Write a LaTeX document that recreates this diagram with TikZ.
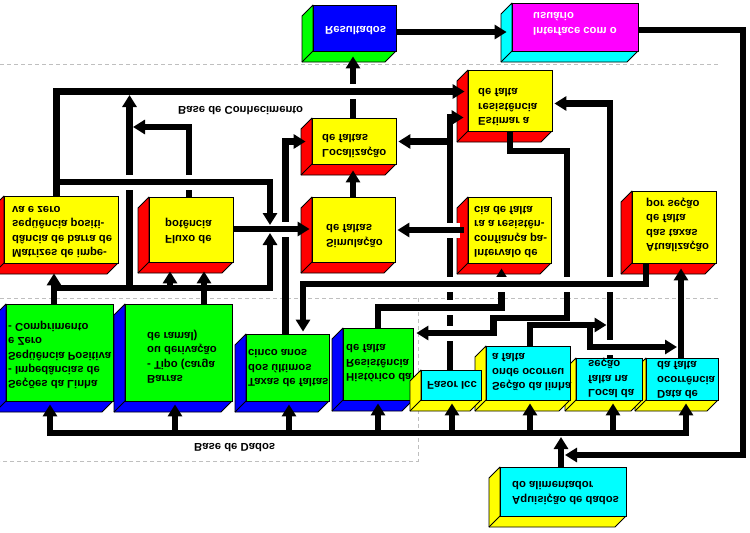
\documentclass[tikz,border=0pt]{standalone}
\usepackage{fontspec}
\usepackage{graphicx}
\setmainfont{Liberation Sans}
\usetikzlibrary{arrows.meta,fit,calc}
\definecolor{cY}{RGB}{255,255,0}
\definecolor{cR}{RGB}{255,0,0}
\definecolor{cG}{RGB}{0,255,0}
\definecolor{cB}{RGB}{0,0,255}
\definecolor{cC}{RGB}{0,255,255}
\definecolor{cM}{RGB}{255,0,255}
\newcommand{\flipt}[1]{\scalebox{1}[-1]{\begin{tabular}{@{}l@{}}#1\end{tabular}}}
\newcommand{\threed}[7]{%
  \filldraw[fill=#7,draw=black,line width=0.8pt,line join=round] (#2,#3) -- ++(-11,11) -- (#2-11,#5+11) -- (#4-11,#5+11) -- (#4,#5) -- (#2,#5) -- cycle;
  \draw[line width=0.8pt] (#2,#5) -- ++(-11,11);
  \node[fit={(#2,#3) (#4,#5)},inner sep=0pt,draw=black,line width=0.8pt,fill=#6] (#1) {};
}
\tikzset{
  conn/.style={line width=6.5pt,draw=black},
  arr/.style={conn,-{Triangle[length=12pt,width=14pt]}},
  bridge/.style={line width=6.5pt,draw=black,preaction={draw=white,line width=15pt}},
  txt/.style={inner sep=0pt,anchor=west,font=\fontsize{11.3}{14.3}\selectfont\bfseries},
  dashln/.style={draw=black!25,line width=0.8pt,dash pattern=on 4pt off 3pt}
}
\begin{document}
\begin{tikzpicture}[x=1pt,y=-1pt]
\fill[white] (0,0) rectangle (750,533);
\useasboundingbox (0,0) rectangle (750,533);
% dashed region borders
\draw[dashln] (0,64) -- (720,64);
\draw[dashln] (0,298) -- (720,298);
\draw[dashln] (418,298) -- (418,461) -- (0,461);
% boxes
\threed{res}{313}{5}{396}{51}{cB}{cG}
\threed{ui}{512}{3}{638}{51}{cM}{cC}
\threed{est}{468}{70}{552}{131}{cY}{cR}
\threed{loc}{312}{118}{396}{164}{cY}{cR}
\threed{sim}{312}{197}{395}{262}{cY}{cR}
\threed{int}{468}{197}{551}{263}{cY}{cR}
\threed{atu}{632}{191}{716}{263}{cY}{cR}
\threed{mat}{4}{196}{118}{263}{cY}{cR}
\threed{flx}{149}{197}{233}{262}{cY}{cR}
\threed{sec}{6}{304}{113}{401}{cG}{cB}
\threed{bar}{125}{304}{232}{401}{cG}{cB}
\threed{tax}{246}{334}{329}{401}{cG}{cB}
\threed{his}{343}{328}{413}{400}{cG}{cB}
\threed{dat}{646}{358}{718}{400}{cC}{cY}
\threed{lcl}{576}{358}{642}{400}{cC}{cY}
\threed{sli}{486}{346}{570}{400}{cC}{cY}
\threed{fas}{421}{370}{481}{400}{cC}{cY}
\threed{aq}{500}{467}{626}{516}{cC}{cY}
\coordinate (J) at (270,229);
% connectors
\draw[arr] (res.east |- 0,32) -- ($(ui.west |- 0,32)+(-5,0)$);
\draw[arr] (ui.east |- 0,30) -| (743,455) -- (565,455);
\draw[arr] (aq.north -| 561,0) -- (561,437);
\draw[conn,{Triangle[length=12pt,width=14pt]}-{Triangle[length=12pt,width=14pt]}] ($(sec.south -| 50,0)+(0,3)$) |- (686,433) -- ($(dat.south -| 686,0)+(0,3)$);
\foreach \x/\n in {175/bar,289/tax,378/his,452/fas,530/sli,613/lcl}
  \draw[arr] (\x,433) -- ($(\n.south -| \x,0)+(0,3)$);
\draw[arr] (loc.north -| 353,0) -- ($(res.south -| 353,0)+(0,5)$);
\draw[arr] (sim.north -| 353,0) -- ($(loc.south -| 353,0)+(0,6)$);
\draw[arr] (mat.north -| 56.5,0) |- ($(est.west |- 0,91.5)+(-3,0)$);
\draw[arr] (56.5,182) -| ($(J)+(0,-4)$);
\draw[arr] (sec.north -| 54,0) -- ($(mat.south -| 54,0)+(0,10)$);
\draw[arr] (54,288) -| ($(J)+(0,4)$);
\draw[arr] (129.5,288) -- (129.5,95);
\draw[arr] (170,288) -- ($(flx.south -| 170,0)+(0,9)$);
\draw[arr] (bar.north -| 204,0) -- ($(flx.south -| 204,0)+(0,9)$);
\draw[arr] (flx.north -| 189,0) |- (133,127);
\draw[arr] (flx.east |- J) -- ($(sim.west |- J)+(-2,0)$);
\draw[arr] (tax.north -| 285.5,0) |- ($(loc.west |- 0,141.5)+(-6,0)$);
\draw[arr] (atu.south -| 646,0) -- (646,284) -| ($(tax.north -| 303,0)+(0,-2)$);
\draw[arr] (his.north -| 378,0) |- (501.5,307.5) -- ($(int.south -| 501.5,0)+(0,5)$);
\draw[arr] (est.south -| 510,0) |- (567,151) |- (493.5,318) |- ($(his.east |- 0,333)+(3,0)$);
\draw[arr] (fas.north -| 450,0) |- ($(est.west |- 0,117.5)+(-4,0)$);
\draw[arr] (450,141.5) -- ($(loc.east |- 0,141.5)+(2,0)$);
\draw[arr] ($(int.west |- 0,230)+(-4,0)$) -- ($(sim.east |- 0,230)+(2,0)$);
\draw[arr] (lcl.north -| 610,0) |- ($(est.east |- 0,103.5)+(2,0)$);
\draw[arr] (sli.north -| 530,0) |- (606.5,325);
\draw[arr] (590,325) |- (677,347);
\draw[arr] (dat.north -| 681,0) -- ($(atu.south -| 681,0)+(0,5)$);
% crossings
\foreach \x/\y in {129.5/182,189/182,285.5/229,353/91.5,450/230,450/284,501.5/284,567/284,610/284,450/307.5,450/333,610/347}
  \draw[bridge] (\x-10,\y) -- (\x+10,\y);
% texts
\node[txt,text=white] (tres) at (325,29) {\flipt{Resultados}};
\node[txt,text=white] (tui) at (533,23) {\flipt{Interface com o\\usuário}};
\node[txt] (test) at (478,106) {\flipt{Estimar a\\resistência\\de falta}};
\node[txt] (tloc) at (322,145) {\flipt{Localização\\de faltas}};
\node[txt] (tsim) at (326,235) {\flipt{Simulação\\de faltas}};
\node[txt] (tint) at (474,231) {\flipt{Intervalo de\\confiança pa-\\ra a resistên-\\cia de falta}};
\node[txt] (tatu) at (646,225) {\flipt{Atualização\\das taxas\\de falta\\por seção}};
\node[txt] (tmat) at (12,231) {\flipt{Matrizes de impe-\\dância de barra de\\seqüência positi-\\va e zero}};
\node[txt] (tflx) at (165,231) {\flipt{Fluxo de\\potência}};
\node[txt] (tsec) at (8,355) {\flipt{Seções da Linha\\- Impedâncias de\\Seqüência Positiva\\e Zero\\- Comprimento}};
\node[txt] (tbar) at (147,357) {\flipt{Barras\\- Tipo (carga\\ou derivação\\de ramal)}};
\node[txt] (ttax) at (248,367) {\flipt{Taxas de faltas\\dos últimos\\cinco anos}};
\node[txt] (this) at (346,362) {\flipt{Histórico da\\Resistência\\de falta}};
\node[txt] (tfas) at (427,384) {\flipt{Fasor Icc}};
\node[txt] (tsli) at (492,371) {\flipt{Seção da linha\\onde ocorreu\\a falta}};
\node[txt] (tlcl) at (588,378) {\flipt{Local da\\falta na\\seção}};
\node[txt] (tdat) at (657,379) {\flipt{Data de\\ocorrência\\da falta}};
\node[txt] (taq) at (512,492) {\flipt{Aquisição de dados\\do alimentador}};
\node[txt] (kbl) at (178,109) {\flipt{Base de Conhecimento}};
\node[txt] (dbl) at (194,446) {\flipt{Base de Dados}};
\end{tikzpicture}
\end{document}
